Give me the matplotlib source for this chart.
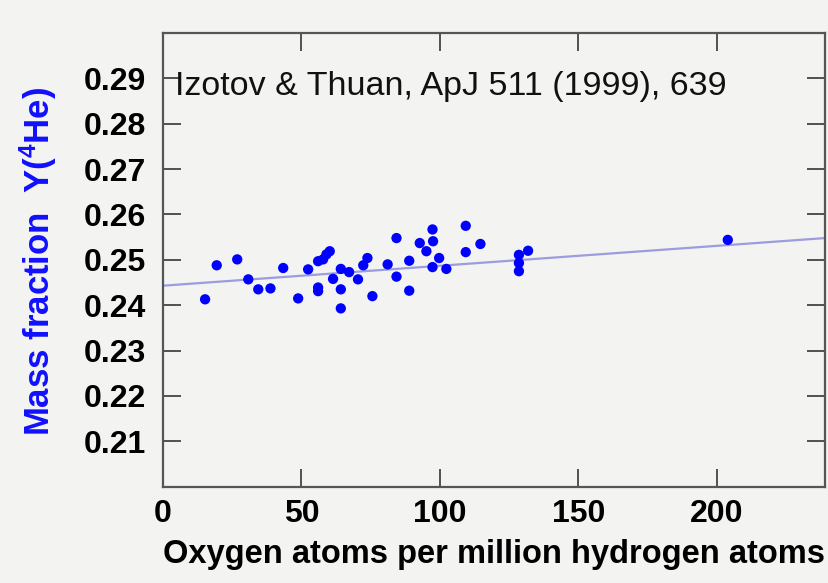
import matplotlib
matplotlib.use('Agg')
import matplotlib.pyplot as plt

plt.rcParams['mathtext.fontset'] = 'custom'
plt.rcParams['mathtext.bf'] = 'Liberation Sans:bold'
plt.rcParams['mathtext.rm'] = 'Liberation Sans'

#=============================================================================
#... data (Izotov & Thuan 1999)
oxygen = [15.2, 19.4, 26.8, 30.8, 34.4, 38.8, 43.4, 48.8, 52.4, 56.0,
          56.0, 56.0, 57.8, 59.0, 60.2, 61.4, 64.2, 64.2, 64.2, 67.2,
          70.4, 72.3, 73.8, 75.6, 81.1, 84.3, 84.3, 88.9, 88.9, 92.7,
          95.1, 97.3, 97.5, 97.3, 99.7, 102.3, 109.3, 109.3, 114.6, 128.5,
          128.5, 128.5, 131.8, 203.9]
helium = [0.2413, 0.2488, 0.2501, 0.2457, 0.2435, 0.2437, 0.2482, 0.2415, 0.2479, 0.2497,
          0.2439, 0.2431, 0.2501, 0.2512, 0.2519, 0.2458, 0.2480, 0.2435, 0.2393, 0.2473,
          0.2457, 0.2488, 0.2504, 0.2420, 0.2490, 0.2548, 0.2463, 0.2498, 0.2432, 0.2537,
          0.2519, 0.2567, 0.2541, 0.2484, 0.2504, 0.2480, 0.2575, 0.2517, 0.2535, 0.2511,
          0.2493, 0.2475, 0.2520, 0.2544]

#... linear fit (end points)
fit_x = [0, 239]
fit_y = [0.2443, 0.2548]

xticks = [0, 50, 100, 150, 200]
yticks = [0.21, 0.22, 0.23, 0.24, 0.25, 0.26, 0.27, 0.28, 0.29]

#=============================================================================
#... create the figure
bg = '#f3f3f1'
fig = plt.figure(figsize=(8.29, 5.83), dpi=100, facecolor=bg)
ax = fig.add_axes([0.1966, 0.1652, 0.7986, 0.7782])
ax.set_facecolor(bg)

ax.plot(fit_x, fit_y, color='#9c9ce0', lw=1.6, zorder=2)
ax.scatter(oxygen, helium, s=55, color='#0000ff', edgecolors='none', zorder=3)

ax.set_xlim(0, 239)
ax.set_ylim(0.20, 0.30)

tickfont = dict(family='Liberation Sans', weight='bold', size=23)
ax.set_xticks(xticks, labels=[str(v) for v in xticks], **tickfont)
ax.set_yticks(yticks, labels=['%.2f' % v for v in yticks], **tickfont)
ax.tick_params(direction='in', length=13, width=1.3, color='#444444',
               top=True, right=True, labelcolor='black')
ax.tick_params(axis='y', pad=12)
ax.tick_params(axis='x', pad=9)
for s in ax.spines.values():
    s.set_color('#555555')
    s.set_linewidth(1.6)

ax.set_xlabel('Oxygen atoms per million hydrogen atoms', family='Liberation Sans',
              weight='bold', size=23.5, labelpad=7)

fig.text(38/829., 1-261/583., r'Mass fraction  Y($\mathbf{^4}$He)', rotation=90,
         ha='center', va='center', color='#1010ff', family='Liberation Sans',
         weight='bold', size=25)

ax.text(0.018, 0.863, 'Izotov & Thuan, ApJ 511 (1999), 639', transform=ax.transAxes,
        family='Liberation Sans', size=24.5, color='#111111', va='baseline', ha='left')

fig.savefig('out.png', dpi=100, facecolor=bg)
